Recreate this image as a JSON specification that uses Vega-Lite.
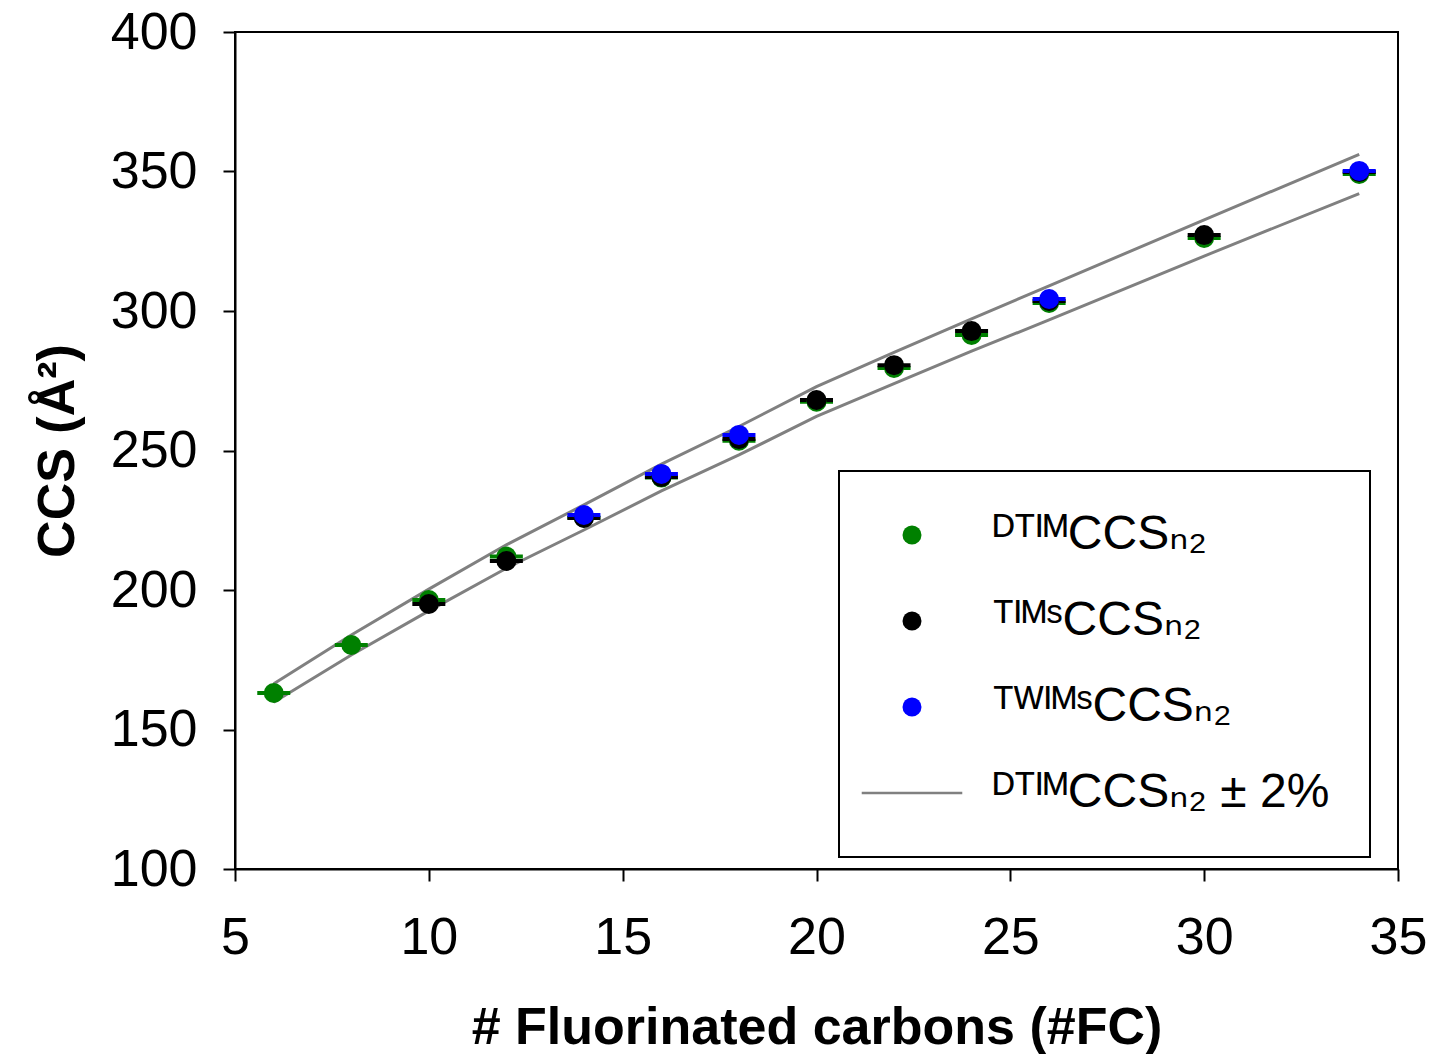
{
  "$schema": "https://vega.github.io/schema/vega-lite/v6.json",
  "width": 1163,
  "height": 837,
  "autosize": {"type": "none"},
  "padding": {"left": 235, "top": 32, "right": 35, "bottom": 185},
  "background": "white",
  "config": {
    "font": "Liberation Sans",
    "view": {"stroke": "black", "strokeWidth": 2},
    "axis": {
      "grid": false,
      "domainColor": "black",
      "domainWidth": 2,
      "tickColor": "black",
      "tickWidth": 2,
      "tickSize": 12,
      "labelFont": "Liberation Sans",
      "labelFontSize": 52,
      "labelColor": "black",
      "titleFont": "Liberation Sans",
      "titleFontSize": 52,
      "titleFontWeight": "bold",
      "titleColor": "black"
    },
    "legend": {
      "orient": "none",
      "legendX": 604,
      "legendY": 439,
      "padding": 40,
      "strokeColor": "black",
      "strokeWidth": 2,
      "fillColor": "white",
      "symbolSize": 360,
      "symbolOffset": 9,
      "labelOffset": 57,
      "labelFontSize": 48,
      "labelFont": "Liberation Sans, DejaVu Sans",
      "labelColor": "black",
      "labelLimit": 800,
      "rowPadding": 38
    }
  },
  "resolve": {"legend": {"color": "independent", "shape": "independent"}},
  "datasets": {
    "pts": [
      {"series": "DTIM", "fc": 6, "ccs": 163.1},
      {"series": "DTIM", "fc": 8, "ccs": 180.3},
      {"series": "DTIM", "fc": 10, "ccs": 196.4},
      {"series": "DTIM", "fc": 12, "ccs": 212.0},
      {"series": "DTIM", "fc": 14, "ccs": 226.0},
      {"series": "DTIM", "fc": 16, "ccs": 240.3},
      {"series": "DTIM", "fc": 18, "ccs": 253.5},
      {"series": "DTIM", "fc": 20, "ccs": 267.5},
      {"series": "DTIM", "fc": 22, "ccs": 279.6},
      {"series": "DTIM", "fc": 24, "ccs": 291.4},
      {"series": "DTIM", "fc": 26, "ccs": 302.9},
      {"series": "DTIM", "fc": 30, "ccs": 326.2},
      {"series": "DTIM", "fc": 34, "ccs": 349.1},
      {"series": "TIMS", "fc": 10, "ccs": 195.0},
      {"series": "TIMS", "fc": 12, "ccs": 210.4},
      {"series": "TIMS", "fc": 14, "ccs": 225.8},
      {"series": "TIMS", "fc": 16, "ccs": 240.5},
      {"series": "TIMS", "fc": 18, "ccs": 254.1},
      {"series": "TIMS", "fc": 20, "ccs": 268.1},
      {"series": "TIMS", "fc": 22, "ccs": 280.6},
      {"series": "TIMS", "fc": 24, "ccs": 292.8},
      {"series": "TIMS", "fc": 26, "ccs": 303.6},
      {"series": "TIMS", "fc": 30, "ccs": 327.2},
      {"series": "TIMS", "fc": 34, "ccs": 349.8},
      {"series": "TWIMS", "fc": 14, "ccs": 226.9},
      {"series": "TWIMS", "fc": 16, "ccs": 241.6},
      {"series": "TWIMS", "fc": 18, "ccs": 255.6},
      {"series": "TWIMS", "fc": 26, "ccs": 304.3},
      {"series": "TWIMS", "fc": 34, "ccs": 350.2}
    ],
    "band": [
      {"series": "DTIM ± 2%", "bound": "upper", "fc": 6, "ccs": 166.4},
      {"series": "DTIM ± 2%", "bound": "upper", "fc": 8, "ccs": 183.9},
      {"series": "DTIM ± 2%", "bound": "upper", "fc": 10, "ccs": 200.3},
      {"series": "DTIM ± 2%", "bound": "upper", "fc": 12, "ccs": 216.2},
      {"series": "DTIM ± 2%", "bound": "upper", "fc": 14, "ccs": 230.5},
      {"series": "DTIM ± 2%", "bound": "upper", "fc": 16, "ccs": 245.1},
      {"series": "DTIM ± 2%", "bound": "upper", "fc": 18, "ccs": 258.6},
      {"series": "DTIM ± 2%", "bound": "upper", "fc": 20, "ccs": 272.9},
      {"series": "DTIM ± 2%", "bound": "upper", "fc": 22, "ccs": 285.2},
      {"series": "DTIM ± 2%", "bound": "upper", "fc": 24, "ccs": 297.2},
      {"series": "DTIM ± 2%", "bound": "upper", "fc": 26, "ccs": 309.0},
      {"series": "DTIM ± 2%", "bound": "upper", "fc": 30, "ccs": 332.7},
      {"series": "DTIM ± 2%", "bound": "upper", "fc": 34, "ccs": 356.1},
      {"series": "DTIM ± 2%", "bound": "lower", "fc": 6, "ccs": 159.8},
      {"series": "DTIM ± 2%", "bound": "lower", "fc": 8, "ccs": 176.7},
      {"series": "DTIM ± 2%", "bound": "lower", "fc": 10, "ccs": 192.5},
      {"series": "DTIM ± 2%", "bound": "lower", "fc": 12, "ccs": 207.8},
      {"series": "DTIM ± 2%", "bound": "lower", "fc": 14, "ccs": 221.5},
      {"series": "DTIM ± 2%", "bound": "lower", "fc": 16, "ccs": 235.5},
      {"series": "DTIM ± 2%", "bound": "lower", "fc": 18, "ccs": 248.4},
      {"series": "DTIM ± 2%", "bound": "lower", "fc": 20, "ccs": 262.2},
      {"series": "DTIM ± 2%", "bound": "lower", "fc": 22, "ccs": 274.0},
      {"series": "DTIM ± 2%", "bound": "lower", "fc": 24, "ccs": 285.6},
      {"series": "DTIM ± 2%", "bound": "lower", "fc": 26, "ccs": 296.8},
      {"series": "DTIM ± 2%", "bound": "lower", "fc": 30, "ccs": 319.7},
      {"series": "DTIM ± 2%", "bound": "lower", "fc": 34, "ccs": 342.1}
    ]
  },
  "encoding": {
    "x": {
      "field": "fc", "type": "quantitative",
      "scale": {"domain": [5, 35], "nice": false, "zero": false},
      "axis": {"values": [5, 10, 15, 20, 25, 30, 35], "title": "# Fluorinated carbons (#FC)", "labelPadding": 31, "titlePadding": 39, "labelFlush": false}
    },
    "y": {
      "field": "ccs", "type": "quantitative",
      "scale": {"domain": [100, 400], "nice": false, "zero": false},
      "axis": {"values": [100, 150, 200, 250, 300, 350, 400], "title": "CCS (Å²)", "labelPadding": 26, "titlePadding": 26, "labelFlush": false}
    }
  },
  "layer": [
    {
      "data": {"name": "band"},
      "mark": {"type": "line", "strokeWidth": 3, "color": "#808080"},
      "encoding": {
        "detail": {"field": "bound", "type": "nominal"}
      }
    },
    {
      "data": {"name": "pts"},
      "mark": {"type": "tick", "orient": "horizontal", "size": 33, "thickness": 4, "opacity": 1},
      "encoding": {
        "color": {"field": "series", "type": "nominal", "legend": null}
      }
    },
    {
      "data": {"name": "pts"},
      "mark": {"type": "point", "filled": true, "size": 400, "opacity": 1},
      "encoding": {
        "color": {
          "field": "series", "type": "nominal",
          "scale": {"domain": ["DTIM", "TIMS", "TWIMS", "DTIM ± 2%"], "range": ["#008000", "#000000", "#0000ff", "#808080"]},
          "legend": {
            "title": null,
            "labelExpr": "datum.value === 'DTIM' ? 'ᴰᵀᴵᴹCCSₙ₂' : datum.value === 'TIMS' ? 'ᵀᴵᴹˢCCSₙ₂' : datum.value === 'TWIMS' ? 'ᵀᵂᴵᴹˢCCSₙ₂' : 'ᴰᵀᴵᴹCCSₙ₂ ± 2%'"
          }
        },
        "shape": {
          "field": "series", "type": "nominal",
          "scale": {"domain": ["DTIM", "TIMS", "TWIMS", "DTIM ± 2%"], "range": ["circle", "circle", "circle", "M-5.3,-0.13H5.3V0.13H-5.3Z"]},
          "legend": {
            "title": null,
            "labelExpr": "datum.value === 'DTIM' ? 'ᴰᵀᴵᴹCCSₙ₂' : datum.value === 'TIMS' ? 'ᵀᴵᴹˢCCSₙ₂' : datum.value === 'TWIMS' ? 'ᵀᵂᴵᴹˢCCSₙ₂' : 'ᴰᵀᴵᴹCCSₙ₂ ± 2%'"
          }
        }
      }
    }
  ]
}
